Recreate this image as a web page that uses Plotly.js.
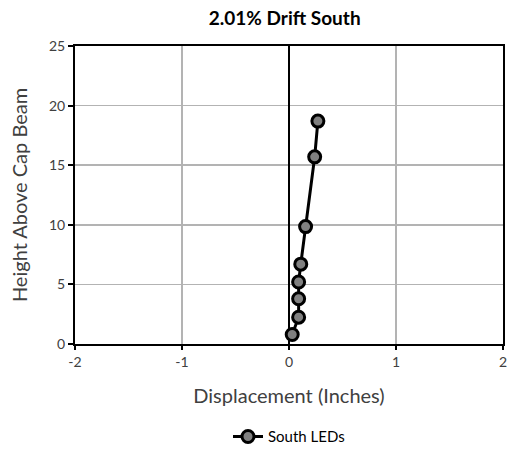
<!DOCTYPE html>
<html><head><meta charset="utf-8">
<script src="https://cdn.plot.ly/plotly-3.0.1.min.js"></script>
<style>html,body{margin:0;padding:0;background:#fff}</style>
</head><body><div id="chart" style="width:512px;height:455px"></div>
<script>
const displacement = [0.03, 0.09, 0.09, 0.09, 0.11, 0.155, 0.24, 0.27];
const height = [0.8, 2.25, 3.8, 5.2, 6.7, 9.85, 15.7, 18.7];
const seriesName = "South LEDs";
const titleText = "2.01% Drift South";
const xTitle = "Displacement (Inches)";
const yTitle = "Height Above Cap Beam";
const xTicks = [-2, -1, 0, 1, 2];
const yTicks = [0, 5, 10, 15, 20, 25];

const font = "Lato, 'Open Sans', sans-serif";
const trace = {
  x: displacement, y: height, name: seriesName, type: 'scatter', mode: 'lines+markers',
  line: {color: '#000', width: 3},
  marker: {symbol: 'circle', size: 12, color: '#808080', line: {color: '#000', width: 3}}
};
const layout = {
  width: 512, height: 455,
  margin: {l: 75, r: 9, t: 46, b: 111},
  paper_bgcolor: '#fff', plot_bgcolor: '#fff',
  font: {family: font, color: '#404040'},
  title: {text: '<b>' + titleText + '</b>', font: {size: 19, color: '#000', family: font}, x: 0.49, xanchor: 'center', y: 0.96, yanchor: 'middle', xref: 'paper'},
  xaxis: {
    range: [-2, 2], tickvals: xTicks, ticktext: xTicks.map(String), automargin: false,
    showgrid: true, gridcolor: '#b3b3b3', gridwidth: 1.5,
    zeroline: true, zerolinecolor: '#000', zerolinewidth: 2,
    showline: true, linecolor: '#000', linewidth: 2, mirror: true,
    ticks: 'outside', ticklen: 4, tickcolor: '#000', tickwidth: 2,
    tickfont: {size: 14, color: '#404040'},
    title: {text: xTitle, font: {size: 20, color: '#404040'}, standoff: 20}
  },
  yaxis: {
    range: [0, 25], tickvals: yTicks, ticktext: yTicks.map(String), automargin: false,
    showgrid: true, gridcolor: '#b3b3b3', gridwidth: 1.5, zeroline: false,
    showline: true, linecolor: '#000', linewidth: 2, mirror: true,
    ticks: 'outside', ticklen: 5, tickcolor: '#000', tickwidth: 2,
    tickfont: {size: 14, color: '#404040'},
    title: {text: yTitle, font: {size: 20, color: '#404040'}, standoff: 16}
  },
  showlegend: true,
  legend: {orientation: 'h', x: 0.5, xanchor: 'center', yref: 'container', y: 0.04, yanchor: 'middle', font: {size: 15, color: '#000'}}
};
Plotly.newPlot('chart', [trace], layout, {displayModeBar: false, staticPlot: true});
</script></body></html>
